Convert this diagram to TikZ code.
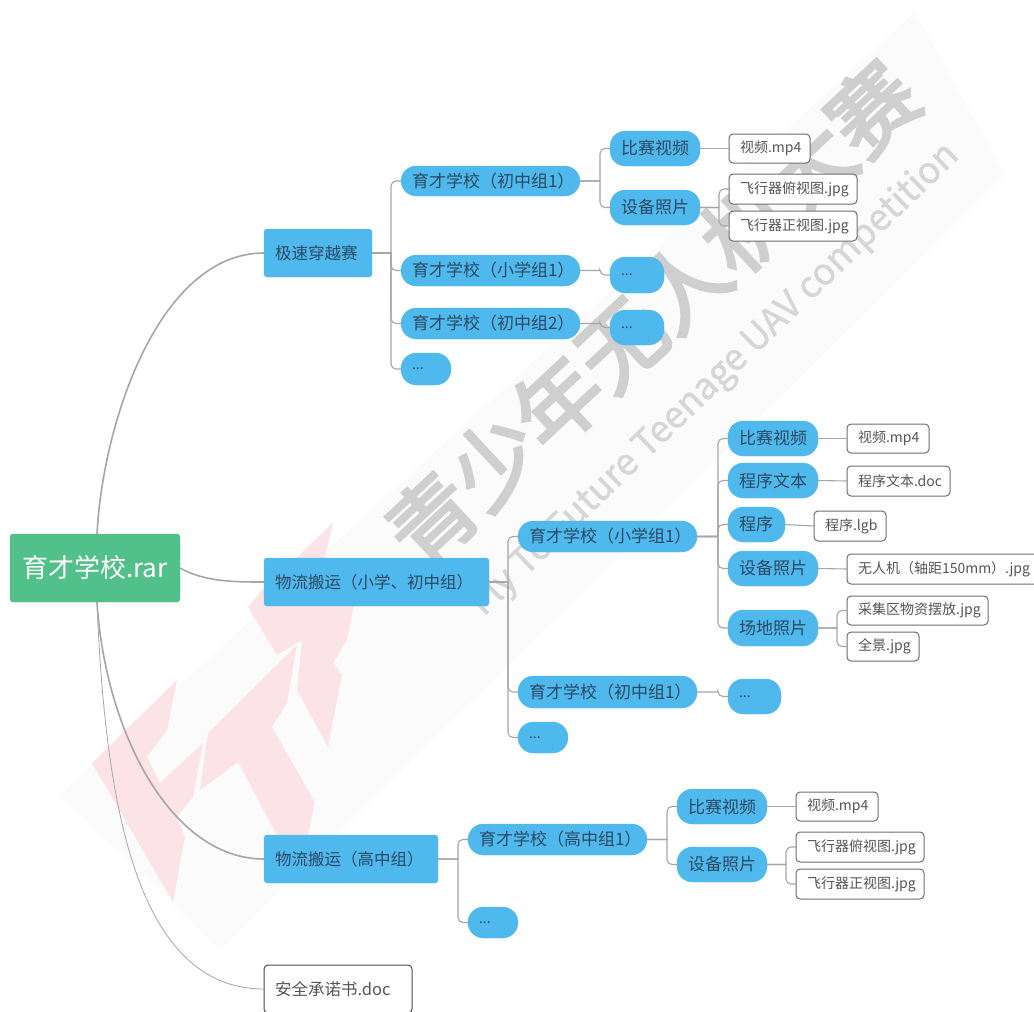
\documentclass[tikz,border=0pt]{standalone}
\usepackage{fontspec}
\setmainfont{Noto Sans CJK SC}
\newfontfamily\mmwmcn{Noto Sans CJK SC}[FakeBold=3.5]
\newfontfamily\mmwmlat{Noto Sans CJK SC}[FakeBold=1.2]
\definecolor{mmblue}{HTML}{4FB8EC}
\definecolor{mmbluedk}{HTML}{6CBFE8}
\definecolor{mmgreen}{HTML}{52C08A}
\definecolor{mmtext}{HTML}{2B4A63}
\definecolor{mmfile}{HTML}{555555}
\definecolor{mmline}{HTML}{A6A6A6}
\definecolor{mmpink}{HTML}{FCE3E7}
\definecolor{mmband}{HTML}{FBFBFC}
\definecolor{mmwm}{HTML}{CFCFCF}
\definecolor{mmwmen}{HTML}{D6D6D6}
\tikzset{
  basebox/.style={draw, outer sep=0pt, inner ysep=0pt, inner xsep=11pt, align=left},
  rootbox/.style={basebox, fill=mmgreen, draw=mmgreen, rounded corners=3pt, text=white, font=\fontsize{26}{30}\selectfont, align=center},
  topicbox/.style={basebox, fill=mmblue, draw=mmbluedk, rounded corners=3pt, text=mmtext, font=\fontsize{16.5}{20}\selectfont},
  pillbox/.style={basebox, fill=mmblue, draw=mmblue, rounded corners=15.5pt, text=mmtext, font=\fontsize{17}{20}\selectfont},
  dotsbox/.style={pillbox, font=\fontsize{14}{17}\selectfont},
  filebox/.style={basebox, fill=white, draw=mmfile!85, line width=1pt, rounded corners=4pt, text=mmfile, font=\fontsize{14}{17}\selectfont},
  docbox/.style={filebox, draw=black!70, font=\fontsize{16.5}{20}\selectfont},
  conn/.style={draw=mmline, line width=1.1pt},
  curvethick/.style={draw=mmline, line width=1.6pt},
  curvethin/.style={draw=mmline, line width=.8pt},
  markpoly/.style={fill=mmpink, draw=none},
  markband/.style={fill=mmband, draw=none},
  marktext/.style={inner sep=0pt},
}
\newcommand\mmbox[7][]{%
  \pgfmathsetmacro\mmh{#6-#4}%
  \pgfmathsetmacro\mmx{(#3+#5)/2}\pgfmathsetmacro\mmy{(#4+#6)/2}%
  \pgfmathsetmacro\mmtw{#5-#3-22}%
  \node[#1, text width=\mmtw pt, minimum height=\mmh pt] (#2) at (\mmx,\mmy) {#7};%
}
\newcommand\mmlink[2]{%
  \draw[conn] (#1.east) -- ([xshift=-10pt]#1.east -| #2.west) [rounded corners=5pt] |- (#2.west);%
}
\newcommand\mmdirect[2]{\draw[conn] (#1.east) -- (#2.west);}
\begin{document}
\begin{tikzpicture}[x=1pt,y=-1pt]
\useasboundingbox (0,0) rectangle (1034,1012);
\fill[white] (0,0) rectangle (1034,1012);
% watermark
\fill[markband] (60,795) -- (915,12) -- (1005,175) -- (220,950) -- cycle;
\fill[markpoly] (92,763) -- (177,680) -- (167,730) -- (147,757) -- (160,783) -- (203,743) -- (193,797) -- (177,817) -- (185,837) -- (173,902) -- cycle;
\fill[markpoly] (200,790) -- (208,733) -- (297,645) -- (287,703) -- (272,727) -- (315,802) -- (308,835) -- (277,835) -- (238,762) -- cycle;
\fill[markpoly] (248,607) -- (262,590) -- (333,523) -- (322,570) -- (355,600) -- (347,640) -- (333,663) -- (342,675) -- (328,747) -- (297,690) -- (302,640) -- (277,655) -- cycle;
\node[marktext, text=mmwm, rotate=43, font=\mmwmcn\fontsize{86}{90}\selectfont] (wmcn) at (652,314) {青少年无人机大赛};
\node[marktext, text=mmwmen, rotate=44, font=\mmwmlat\fontsize{36.5}{40}\selectfont] (wmen) at (715,380) {Fly To Future Teenage UAV competition};
% nodes
\mmbox[rootbox]{root}{10}{534}{180}{602}{育才学校.rar}
\mmbox[topicbox]{speed}{264}{229}{372}{277}{极速穿越赛}
\mmbox[topicbox]{logi}{264}{558}{489}{606}{物流搬运（小学、初中组）}
\mmbox[topicbox]{logh}{264}{835}{438}{883}{物流搬运（高中组）}
\mmbox[docbox]{safe}{264}{965}{412}{1013}{安全承诺书.doc}
% speed branch
\mmbox[pillbox]{sa}{401}{166}{580}{196}{育才学校（初中组1）}
\mmbox[pillbox]{sb}{401}{255}{580}{286}{育才学校（小学组1）}
\mmbox[pillbox]{sc}{401}{308}{580}{339}{育才学校（初中组2）}
\mmbox[dotsbox]{sd}{401}{353}{451}{385}{...}
\mmbox[pillbox]{saa}{610}{131}{700}{166}{比赛视频}
\mmbox[pillbox]{sab}{610}{190}{700}{225}{设备照片}
\mmbox[dotsbox]{sba}{610}{257}{664}{293}{...}
\mmbox[dotsbox]{sca}{610}{310}{664}{345}{...}
\mmbox[filebox]{saaf}{729}{134}{810}{163}{视频.mp4}
\mmbox[filebox]{sabf}{729}{174}{857}{204}{飞行器俯视图.jpg}
\mmbox[filebox]{sabg}{729}{211}{857}{241}{飞行器正视图.jpg}
% logistics primary/junior branch
\mmbox[pillbox]{la}{518}{521}{697}{552}{育才学校（小学组1）}
\mmbox[pillbox]{lb}{518}{676}{697}{708}{育才学校（初中组1）}
\mmbox[dotsbox]{lc}{518}{722}{568}{753}{...}
\mmbox[pillbox]{laa}{728}{421}{818}{456}{比赛视频}
\mmbox[pillbox]{lab}{728}{463}{818}{498}{程序文本}
\mmbox[pillbox]{lac}{728}{507}{785}{542}{程序}
\mmbox[pillbox]{lad}{728}{551}{818}{586}{设备照片}
\mmbox[pillbox]{lae}{728}{610}{818}{646}{场地照片}
\mmbox[dotsbox]{lba}{728}{679}{781}{714}{...}
\mmbox[filebox]{laaf}{847}{424}{929}{453}{视频.mp4}
\mmbox[filebox]{labf}{847}{466}{950}{496}{程序文本.doc}
\mmbox[filebox]{lacf}{814}{511}{886}{541}{程序.lgb}
\mmbox[filebox]{ladf}{847}{554}{1045}{584}{无人机（轴距150mm）.jpg}
\mmbox[filebox]{laef}{847}{596}{988}{625}{采集区物资摆放.jpg}
\mmbox[filebox]{laeg}{847}{632}{919}{661}{全景.jpg}
% logistics senior branch
\mmbox[pillbox]{ha}{468}{824}{647}{855}{育才学校（高中组1）}
\mmbox[dotsbox]{hb}{468}{907}{518}{938}{...}
\mmbox[pillbox]{haa}{677}{789}{767}{824}{比赛视频}
\mmbox[pillbox]{hab}{677}{847}{767}{882}{设备照片}
\mmbox[filebox]{haaf}{796}{792}{878}{821}{视频.mp4}
\mmbox[filebox]{habf}{796}{832}{924}{862}{飞行器俯视图.jpg}
\mmbox[filebox]{habg}{796}{869}{924}{899}{飞行器正视图.jpg}
% root curves
\draw[curvethick] ([xshift=2pt]root.north) .. controls (103,420) and (160,253) .. (speed.west);
\draw[curvethick] (root.east) .. controls (205,582) and (235,582) .. (logi.west);
\draw[curvethick] ([xshift=2pt]root.south) .. controls (105,730) and (170,859) .. (logh.west);
\draw[curvethin] ([xshift=2pt]root.south) .. controls (105,800) and (135,989) .. (safe.west);
% connectors
\mmlink{speed}{sa}\mmlink{speed}{sb}\mmlink{speed}{sc}\mmlink{speed}{sd}
\mmlink{sa}{saa}\mmlink{sa}{sab}\mmlink{sb}{sba}\mmlink{sc}{sca}
\mmdirect{saa}{saaf}\mmlink{sab}{sabf}\mmlink{sab}{sabg}
\mmlink{logi}{la}\mmlink{logi}{lb}\mmlink{logi}{lc}
\mmlink{la}{laa}\mmlink{la}{lab}\mmlink{la}{lac}\mmlink{la}{lad}\mmlink{la}{lae}
\mmlink{lb}{lba}
\mmdirect{laa}{laaf}\mmdirect{lab}{labf}\mmdirect{lac}{lacf}\mmdirect{lad}{ladf}
\mmlink{lae}{laef}\mmlink{lae}{laeg}
\mmlink{logh}{ha}\mmlink{logh}{hb}
\mmlink{ha}{haa}\mmlink{ha}{hab}
\mmdirect{haa}{haaf}\mmlink{hab}{habf}\mmlink{hab}{habg}
\end{tikzpicture}
\end{document}
